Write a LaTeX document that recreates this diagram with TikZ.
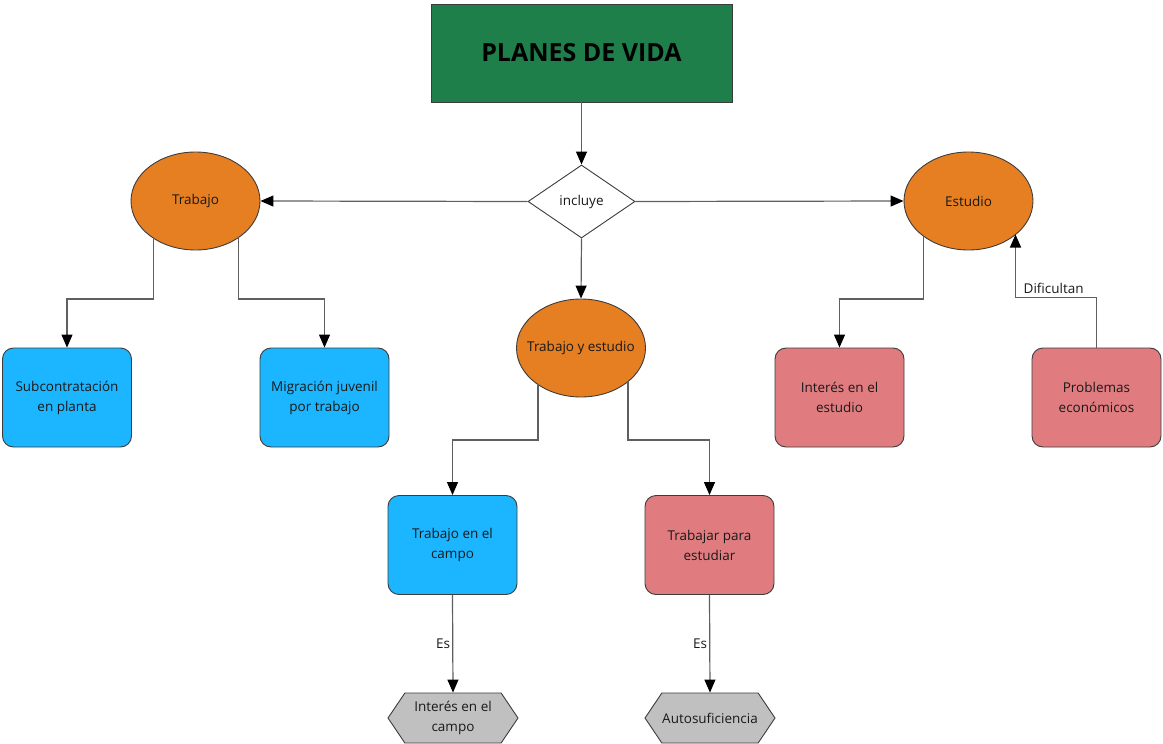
\documentclass[tikz,border=0pt]{standalone}
\usepackage{fontspec}
\setmainfont{Open Sans}
\usetikzlibrary{shapes.geometric,shapes.symbols,arrows.meta,calc}
\definecolor{titlegreen}{RGB}{31,127,74}
\definecolor{ovalorange}{RGB}{230,126,34}
\definecolor{boxblue}{RGB}{27,182,255}
\definecolor{boxpink}{RGB}{224,124,128}
\definecolor{hexgray}{RGB}{192,192,192}
\definecolor{edgegray}{RGB}{60,60,60}
\definecolor{linegray}{RGB}{95,95,95}
\definecolor{txt}{RGB}{25,25,25}
\newcommand{\ovaltext}[1]{\makebox[0pt]{#1}}
\begin{document}
\begin{tikzpicture}[x=1pt,y=-1pt,
  every node/.style={text=txt,font=\fontsize{13.5}{20}\selectfont,align=center},
  titlebox/.style={draw=edgegray,line width=0.9pt,fill=titlegreen,minimum width=301pt,minimum height=98pt,inner sep=0pt,text=black,font=\fontsize{25}{30}\selectfont\bfseries},
  choice/.style={diamond,draw=edgegray,line width=0.9pt,fill=white,minimum width=107pt,minimum height=73pt,aspect=1.47,inner sep=0pt},
  oval/.style={ellipse,draw=edgegray,line width=0.9pt,fill=ovalorange,minimum width=129pt,minimum height=98pt,inner sep=0pt},
  card/.style={rounded corners=11pt,draw=edgegray,line width=0.9pt,minimum width=129pt,minimum height=99pt,inner sep=0pt},
  bluecard/.style={card,fill=boxblue},
  pinkcard/.style={card,fill=boxpink},
  hexa/.style={signal,signal to=west and east,signal pointer angle=112,draw=edgegray,line width=0.9pt,fill=hexgray,minimum width=130pt,minimum height=50pt,inner sep=0pt},
  conn/.style={draw=linegray,line width=1.2pt,-{Triangle[length=13pt,width=11pt,color=black]}},
  tag/.style={font=\fontsize{13.5}{16}\selectfont,inner sep=2pt}
]
\useasboundingbox (0,0) rectangle (1163,744);

% main title and the branching decision
\node[titlebox] (title) at (581.5,53) {PLANES DE VIDA};
\node[choice] (inc) at (581.5,201.5) {incluye};

% three main themes
\node[oval] (trab) at (195.5,201) {\ovaltext{Trabajo}};
\node[oval] (est) at (968.5,201) {\ovaltext{Estudio}};
\node[oval] (tye) at (581,348) {\ovaltext{Trabajo y estudio}};

% second level boxes
\node[bluecard] (sub) at (67,397.5) {Subcontratación\\en planta};
\node[bluecard] (mig) at (324.5,397.5) {Migración juvenil\\por trabajo};
\node[pinkcard] (int) at (839.5,397.5) {Interés en el\\estudio};
\node[pinkcard] (prob) at (1096.5,397.5) {Problemas\\económicos};
\node[bluecard] (campo) at (452.5,545) {Trabajo en el\\campo};
\node[pinkcard] (estud) at (709.5,545) {Trabajar para\\estudiar};

% outcomes
\node[hexa] (icampo) at (453,718) {Interés en el\\campo};
\node[hexa] (auto) at (710,718) {Autosuficiencia};

% connectors
\draw[conn] (title.south) -- (inc.north);
\draw[conn] (inc.west) -- (trab.east);
\draw[conn] (inc.east) -- (est.west);
\draw[conn] (inc.south) -- (tye.north);

\draw[conn] ($(trab.center)+(-42,37)$) -- ++(0,61) -| (sub.north);
\draw[conn] ($(trab.center)+(43,36)$) -- ++(0,62) -| (mig.north);

\draw[conn] ($(est.center)+(-45,35)$) -- ++(0,63) -| (int.north);
\draw[conn] (prob.north) -- ++(0,-50) coordinate (bend) -| ($(est.center)+(47,33.5)$);
\node[tag,anchor=south west] at ($(bend)+(-75,-2)$) {Dificultan};

\draw[conn] ($(tye.center)+(-43,35.5)$) -- ++(0,56.5) -| (campo.north);
\draw[conn] ($(tye.center)+(47,32.5)$) -- ++(0,59.5) -| (estud.north);

\draw[conn] (campo.south) -- node[tag,left] {Es} (icampo.north);
\draw[conn] (estud.south) -- node[tag,left] {Es} (auto.north);
\end{tikzpicture}
\end{document}
